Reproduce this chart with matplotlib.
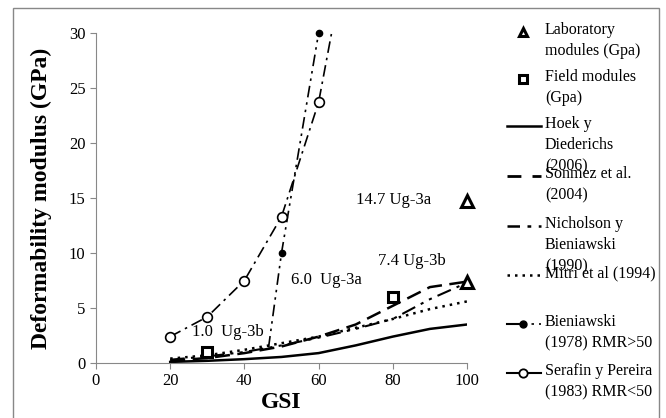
import numpy as np
import matplotlib.pyplot as plt
from matplotlib.patches import Rectangle

plt.rcParams['font.family'] = ['Liberation Serif', 'DejaVu Serif']

# --- data ---
gsi = [20, 30, 40, 50, 60, 70, 80, 90, 100]
hoek = [0.1, 0.2, 0.35, 0.55, 0.9, 1.6, 2.4, 3.1, 3.5]
sonmez = [0.2, 0.45, 0.9, 1.5, 2.4, 3.5, 5.2, 6.9, 7.4]
nicholson = [0.3, 0.6, 1.0, 1.6, 2.3, 3.1, 4.0, 5.8, 7.3]
mitri = [0.4, 0.7, 1.2, 1.8, 2.4, 3.2, 4.0, 4.9, 5.6]

bien_x = [46.5, 50, 60]
bien_y = [1.4, 10, 30]

seraf_x = [20, 30, 40, 50, 60, 63.5]
seraf_y = [2.4, 4.2, 7.5, 13.3, 23.7, 30]

field_x = [30, 80]
field_y = [1.0, 6.0]
lab_x = [100, 100]
lab_y = [14.7, 7.4]

notes = ["14.7 Ug-3a", "7.4 Ug-3b", "6.0  Ug-3a", "1.0  Ug-3b"]
notes_xy = [(70, 14.8), (76, 9.3), (52.5, 7.5), (26, 2.8)]

legend_labels = ["Laboratory\nmodules (Gpa)", "Field modules\n(Gpa)",
                 "Hoek y\nDiederichs\n(2006)", "Sonmez et al.\n(2004)",
                 "Nicholson y\nBieniawski\n(1990)", "Mitri et al (1994)",
                 "Bieniawski\n(1978) RMR>50", "Serafin y Pereira\n(1983) RMR<50"]

# line styles
ls_dash = (0, (6, 3))
ls_dashdot = (0, (7, 3, 1.5, 3, 1.5, 3))
ls_dot = (0, (1, 2))
ls_bien = (0, (7, 3, 1.5, 3, 1.5, 3))
ls_seraf = (0, (7, 3, 1.5, 3))

W, H = 666, 418
fig = plt.figure(figsize=(W / 100, H / 100), dpi=100)

# outer chart border
fig.patches.append(Rectangle((13 / W, -0.01), 646 / W, 1 - 8 / H + 0.01,
                             transform=fig.transFigure, fill=False,
                             edgecolor='#888888', lw=1.0))

ax = fig.add_axes([96 / W, 1 - 363 / H, 371 / W, 330 / H])
ax.plot(gsi, hoek, color='black', lw=1.8)
ax.plot(gsi, sonmez, color='black', lw=1.8, linestyle=ls_dash)
ax.plot(gsi, nicholson, color='black', lw=1.5, linestyle=ls_dashdot)
ax.plot(gsi, mitri, color='black', lw=1.8, linestyle=ls_dot)
ax.plot(bien_x, bien_y, color='black', lw=1.2, linestyle=ls_bien,
        marker='o', ms=4.5, markevery=[1, 2], clip_on=False)
ax.plot(seraf_x, seraf_y, color='black', lw=1.2, linestyle=ls_seraf,
        marker='o', ms=7, mfc='white', mew=1.2, markevery=[0, 1, 2, 3, 4],
        clip_on=False)
ax.plot(field_x, field_y, 's', ms=7, mfc='white', mec='black', mew=2.2,
        linestyle='none', clip_on=False)
ax.plot(lab_x, lab_y, '^', ms=8, mfc='white', mec='black', mew=2.2,
        linestyle='none', clip_on=False)

for t, (x, y) in zip(notes, notes_xy):
    ax.text(x, y, t, fontsize=12, va='center', ha='left')

ax.set_xlim(0, 100)
ax.set_ylim(0, 30)
ax.set_xticks(range(0, 101, 20))
ax.set_yticks(range(0, 31, 5))
for s in ['top', 'right']:
    ax.spines[s].set_visible(False)
for s in ['left', 'bottom']:
    ax.spines[s].set_color('#888888')
ax.tick_params(colors='#888888', labelcolor='black', labelsize=12, length=4)
ax.set_xlabel('GSI', fontsize=17, fontweight='bold', labelpad=2)
ax.set_ylabel('Deformability modulus (GPa)', fontsize=17, fontweight='bold',
              labelpad=12)

# legend drawn in its own axes (pixel coordinates)
lax = fig.add_axes([0, 0, 1, 1], facecolor='none')
lax.set_xlim(0, W)
lax.set_ylim(H, 0)
lax.axis('off')
leg_y = [32, 79, 126, 176, 226, 275, 324, 373]
hx = [507, 541]
lax.plot([523], [leg_y[0]], '^', ms=6, mfc='white', mec='black', mew=2.2)
lax.plot([523], [leg_y[1]], 's', ms=6, mfc='white', mec='black', mew=2.2)
lax.plot(hx, [leg_y[2]] * 2, color='black', lw=1.8)
lax.plot(hx, [leg_y[3]] * 2, color='black', lw=2, linestyle=(0, (5, 4)))
lax.plot(hx, [leg_y[4]] * 2, color='black', lw=1.8,
         linestyle=(0, (5, 3, 1.5, 3, 1.5, 3)))
lax.plot(hx, [leg_y[5]] * 2, color='black', lw=1.8, linestyle=ls_dot)
lax.plot([507, 520], [leg_y[6]] * 2, color='black', lw=1.5)
lax.plot([524, 541], [leg_y[6]] * 2, color='black', lw=1.2,
         linestyle=(0, (1.5, 3)))
lax.plot([523], [leg_y[6]], 'o', ms=5, color='black')
lax.plot(hx, [leg_y[7]] * 2, color='black', lw=1.5)
lax.plot([523], [leg_y[7]], 'o', ms=6, mfc='white', mec='black', mew=1.3)
for lbl, y in zip(legend_labels, leg_y):
    lax.text(545, y - 10, lbl, fontsize=11.5, va='top', ha='left',
             linespacing=1.45)

fig.savefig('out.png', dpi=100)
